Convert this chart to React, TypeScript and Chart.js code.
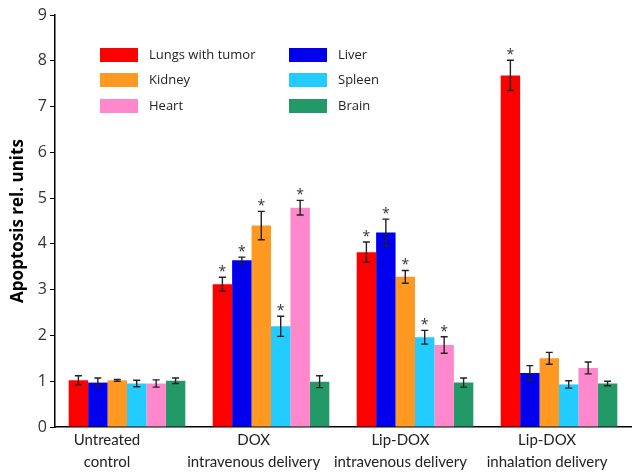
import React, { useEffect, useRef } from "react";
import { Chart, registerables } from "chart.js";

Chart.register(...registerables);

const categories = [
  ["Untreated", "control"],
  ["DOX", "intravenous delivery"],
  ["Lip-DOX", "intravenous delivery"],
  ["Lip-DOX", "inhalation delivery"],
];
const seriesNames = ["Lungs with tumor", "Liver", "Kidney", "Spleen", "Heart", "Brain"];
const seriesColors = ["#ff0000", "#0000ee", "#ff9922", "#22ccff", "#ff88cc", "#229966"];
const lungs = [1.02, 3.12, 3.82, 7.68];
const liver = [0.97, 3.64, 4.25, 1.18];
const kidney = [1.02, 4.4, 3.28, 1.5];
const spleen = [0.95, 2.2, 1.96, 0.93];
const heart = [0.95, 4.79, 1.79, 1.29];
const brain = [1.01, 0.99, 0.97, 0.95];
const lungsErr = [0.1, 0.15, 0.22, 0.33];
const liverErr = [0.1, 0.07, 0.29, 0.16];
const kidneyErr = [0.02, 0.31, 0.14, 0.13];
const spleenErr = [0.07, 0.22, 0.15, 0.08];
const heartErr = [0.08, 0.16, 0.18, 0.13];
const brainErr = [0.06, 0.13, 0.1, 0.05];
const lungsStar = [false, true, true, true];
const liverStar = [false, true, true, false];
const kidneyStar = [false, true, true, false];
const spleenStar = [false, true, true, false];
const heartStar = [false, true, true, false];
const brainStar = [false, false, false, false];
const yTicks = [0, 1, 2, 3, 4, 5, 6, 7, 8, 9];
const yTitle = "Apoptosis rel. units";

const FONT = "'Open Sans', 'Noto Sans', sans-serif";
const LFONT = "Lato, 'Open Sans', sans-serif";

export default function App() {
  const ref = useRef<HTMLCanvasElement>(null);
  useEffect(() => {
    document.body.style.margin = "0";
    const values = [lungs, liver, kidney, spleen, heart, brain];
    const errs = [lungsErr, liverErr, kidneyErr, spleenErr, heartErr, brainErr];
    const stars = [lungsStar, liverStar, kidneyStar, spleenStar, heartStar, brainStar];

    const overlay = {
      id: "overlay",
      afterDatasetsDraw(chart: any) {
        const ctx = chart.ctx;
        const y = chart.scales.y;
        ctx.save();
        chart.data.datasets.forEach((ds: any, di: number) => {
          const meta = chart.getDatasetMeta(di);
          meta.data.forEach((bar: any, i: number) => {
            const v = values[di][i];
            const e = errs[di][i];
            const yt = y.getPixelForValue(v + e);
            const yb = y.getPixelForValue(v - e);
            ctx.strokeStyle = "#222";
            ctx.lineWidth = 1.4;
            ctx.beginPath();
            ctx.moveTo(bar.x, yt);
            ctx.lineTo(bar.x, yb);
            ctx.moveTo(bar.x - 3.5, yt);
            ctx.lineTo(bar.x + 3.5, yt);
            ctx.moveTo(bar.x - 3.5, yb);
            ctx.lineTo(bar.x + 3.5, yb);
            ctx.stroke();
            if (stars[di][i]) {
              ctx.fillStyle = "#333";
              ctx.font = `14px ${FONT}`;
              ctx.textAlign = "center";
              ctx.textBaseline = "middle";
              ctx.fillText("*", bar.x, yt - 5);
            }
          });
        });
        ctx.restore();
      },
      afterDraw(chart: any) {
        const ctx = chart.ctx;
        const x = chart.scales.x;
        ctx.save();
        // x labels
        ctx.fillStyle = "#222";
        ctx.font = `15px ${LFONT}`;
        ctx.textAlign = "center";
        ctx.textBaseline = "middle";
        categories.forEach((lines, i) => {
          const px = x.getPixelForValue(i) - 20 + i * 2.7;
          lines.forEach((t, li) => ctx.fillText(t, px, 440 + li * 22));
        });
        // y title
        ctx.save();
        ctx.translate(18, 221);
        ctx.rotate(-Math.PI / 2);
        ctx.font = `bold 17px ${FONT}`;
        ctx.fillStyle = "#000";
        ctx.fillText(yTitle, 0, 0);
        ctx.restore();
        // legend
        const cols = [100, 289];
        const rows = [55, 80, 106];
        ctx.font = `13px ${FONT}`;
        ctx.textAlign = "left";
        seriesNames.forEach((name, i) => {
          const cx = cols[i % 2];
          const ry = rows[Math.floor(i / 2)];
          ctx.fillStyle = seriesColors[i];
          ctx.fillRect(cx, ry - 7, 38, 14);
          ctx.fillStyle = "#222";
          ctx.fillText(name, cx + 49, ry);
        });
        ctx.restore();
      },
    };

    const chart = new Chart(ref.current!, {
      type: "bar",
      data: {
        labels: categories.map((c) => c.join(" ")),
        datasets: seriesNames.map((n, i) => ({
          label: n,
          data: values[i],
          backgroundColor: seriesColors[i],
          borderWidth: 0,
          barPercentage: 1,
          categoryPercentage: 0.81,
        })),
      },
      options: {
        animation: false,
        responsive: false,
        layout: { padding: { top: 15, right: 7, left: 0, bottom: 0 } },
        plugins: { legend: { display: false }, tooltip: { enabled: false } },
        scales: {
          x: {
            grid: { display: false },
            border: { display: true, color: "#000", width: 1.5 },
            ticks: { display: false },
            afterFit: (s: any) => {
              s.height = 47;
            },
          },
          y: {
            min: 0,
            max: 9,
            afterBuildTicks: (s: any) => {
              s.ticks = yTicks.map((v) => ({ value: v }));
            },
            grid: { drawOnChartArea: false, drawTicks: true, tickLength: 5, color: "#000" },
            border: { display: true, color: "#000", width: 1.5 },
            ticks: { color: "#333", font: { family: FONT, size: 16 }, padding: 3 },
            afterFit: (s: any) => {
              s.width = 55;
            },
          },
        },
      },
      plugins: [overlay],
    });
    return () => chart.destroy();
  }, []);
  return <canvas ref={ref} width={638} height={474} style={{ display: "block" }} />;
}
